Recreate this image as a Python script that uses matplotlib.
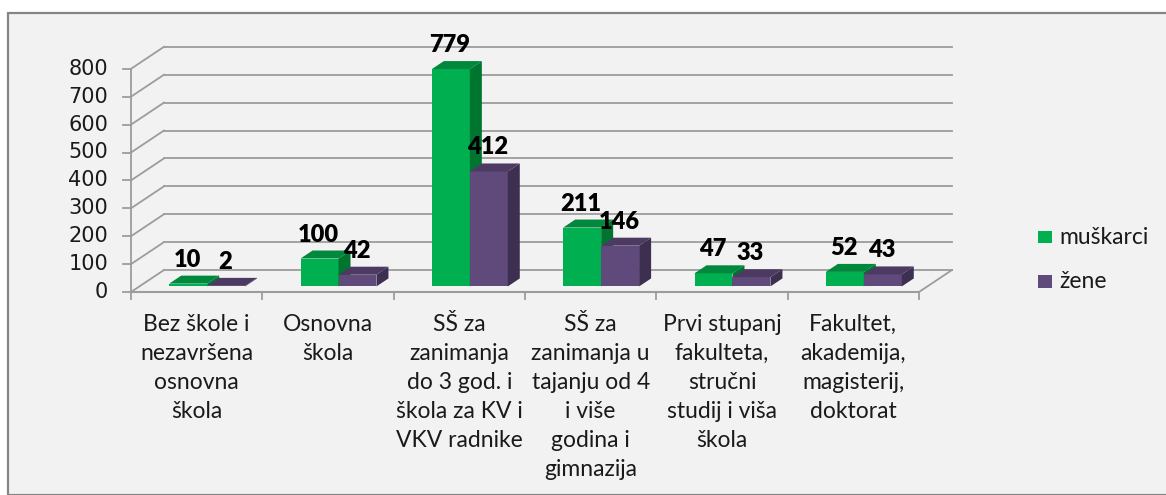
import matplotlib
matplotlib.use("Agg")
import matplotlib.pyplot as plt
from matplotlib.patches import Rectangle, Polygon

# podaci
kategorije = [
    "Bez škole i\nnezavršena\nosnovna\nškola",
    "Osnovna\nškola",
    "SŠ za\nzanimanja\ndo 3 god. i\nškola za KV i\nVKV radnike",
    "SŠ za\nzanimanja u\ntajanju od 4\ni više\ngodina i\ngimnazija",
    "Prvi stupanj\nfakulteta,\nstručni\nstudij i viša\nškola",
    "Fakultet,\nakademija,\nmagisterij,\ndoktorat",
]
muskarci = [10, 100, 779, 211, 47, 52]
zene = [2, 42, 412, 146, 33, 43]
serije = ["muškarci", "žene"]
y_ticks = [0, 100, 200, 300, 400, 500, 600, 700, 800]

# boje (prednja, bocna, gornja strana)
ZELENA = ("#00b050", "#007530", "#00883c")
LJUBICASTA = ("#604a7b", "#3d2f50", "#4c3a63")
POZADINA = "#f2f2f2"
MREZA = "#9c9c9c"

W, H = 1166, 495
fig = plt.figure(figsize=(W / 100, H / 100), dpi=100)
fig.patch.set_facecolor("white")

# okvir grafikona
okvir = Rectangle((8 / W, 0), 1.2, (H - 13) / H, transform=fig.transFigure,
                  facecolor=POZADINA, edgecolor="#858585", linewidth=1.6, zorder=0)
fig.add_artist(okvir)

ax = fig.add_axes([0, 0, 1, 1])
ax.set_axis_off()
ax.patch.set_alpha(0)

# pikseli -> podaci
PX_X = 131.33   # px po kategoriji
PX_Y = 0.279    # px po jedinici
X0, Y0 = 131, 292
ax.set_xlim(-X0 / PX_X, (W - X0) / PX_X)
ax.set_ylim((Y0 - H) / PX_Y, Y0 / PX_Y)

n = len(kategorije)
bdx, bdy = 33 / PX_X, 22 / PX_Y     # dubina zida
ddx, ddy = 12 / PX_X, 8 / PX_Y      # dubina stupca

# zidovi i mreza
for v in y_ticks:
    ax.plot([0, bdx], [v, v + bdy], color=MREZA, lw=1.3, zorder=1)
    ax.plot([bdx, n + bdx], [v + bdy, v + bdy], color=MREZA, lw=1.3, zorder=1)
    ax.plot([-8 / PX_X, 0], [v, v], color=MREZA, lw=1.3, zorder=1)
    ax.text(-23 / PX_X, v, str(v), ha="right", va="center", fontsize=15,
            family="DejaVu Sans", color="#1a1a1a")
ax.plot([0, 0], [0, y_ticks[-1]], color=MREZA, lw=1.3, zorder=1)
ax.plot([0, n], [0, 0], color=MREZA, lw=1.5, zorder=1)
ax.plot([n, n + bdx], [0, bdy], color=MREZA, lw=1.3, zorder=1)
for k in range(n + 1):
    ax.plot([k, k], [0, -7 / PX_Y], color=MREZA, lw=1.3, zorder=1)

# stupci
sirina = 0.289
pomak = 0.08
dno = 20


def stupac(xc, v, boje):
    xl, xr = xc - sirina / 2, xc + sirina / 2
    t = dno + v
    ax.bar(xc, v, width=sirina, bottom=dno, color=boje[0], zorder=3)
    ax.add_patch(Polygon([(xr, dno), (xr + ddx, dno + ddy), (xr + ddx, t + ddy), (xr, t)],
                         closed=True, facecolor=boje[1], edgecolor="none", zorder=3))
    ax.add_patch(Polygon([(xl, t), (xr, t), (xr + ddx, t + ddy), (xl + ddx, t + ddy)],
                         closed=True, facecolor=boje[2], edgecolor="none", zorder=3))
    ax.text(xc - 1 / PX_X, t + 24 / PX_Y, str(v), ha="center", va="center",
            fontsize=17, fontweight="heavy", family="Lato", color="black", zorder=5)


for i in range(n):
    sredina = i + 0.5 + pomak
    stupac(sredina - sirina / 2, muskarci[i], ZELENA)
    stupac(sredina + sirina / 2, zene[i], LJUBICASTA)

# oznake kategorija
for i, lab in enumerate(kategorije):
    ax.text(i + 0.5, -(314 - Y0) / PX_Y, lab, ha="center", va="top",
            multialignment="center", fontsize=16.5, family="Lato",
            linespacing=1.47, color="#1a1a1a")

# legenda
for boja, ime, yc in zip([ZELENA[0], LJUBICASTA[0]], serije, [237, 281]):
    fig.add_artist(Rectangle((1038 / W, 1 - (yc + 6.5) / H), 14 / W, 13 / H,
                             transform=fig.transFigure, facecolor=boja, edgecolor="none"))
    fig.text(1059 / W, 1 - yc / H, ime, ha="left", va="center", fontsize=16.5,
             family="Lato", color="#1a1a1a")

fig.savefig("out.png", dpi=100, facecolor=fig.get_facecolor())
